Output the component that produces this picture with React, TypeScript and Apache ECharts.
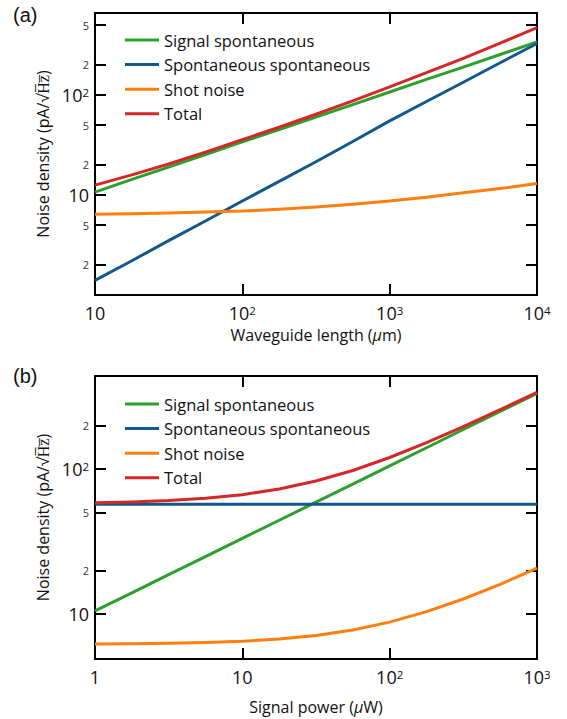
import React, { useEffect, useRef } from "react";
import * as echarts from "echarts";

// Panel (a): noise density vs waveguide length
const lengthUm = [10, 17.8, 31.6, 56.2, 100, 178, 316, 562, 1000, 1778, 3162, 5623, 10000];
const aSignal = [10.7, 14.3, 19, 25.4, 34, 45, 60, 80, 107, 143, 190, 254, 339];
const aSpont = [1.4, 2.2, 3.5, 5.5, 8.7, 13.7, 21.5, 34.3, 55, 86, 134, 210, 327];
const aShot = [6.4, 6.5, 6.6, 6.75, 6.9, 7.2, 7.6, 8.1, 8.7, 9.5, 10.5, 11.6, 13.0];
const aTotal = [12.55, 15.9, 20.4, 26.8, 35.8, 47.6, 64.2, 87.4, 120.6, 167, 232.7, 329.8, 471];

// Panel (b): noise density vs signal power
const powerUw = [1, 1.78, 3.16, 5.62, 10, 17.8, 31.6, 56.2, 100, 178, 316, 562, 1000];
const bSignal = [10.5, 14, 18.7, 24.9, 33.2, 44.3, 59, 78.7, 105, 140, 187, 249, 332];
const bSpont = [57.2, 57.2, 57.2, 57.2, 57.2, 57.2, 57.2, 57.2, 57.2, 57.2, 57.2, 57.2, 57.2];
const bShot = [6.22, 6.25, 6.3, 6.37, 6.5, 6.72, 7.11, 7.76, 8.8, 10.4, 12.7, 16.0, 20.7];
const bTotal = [58.5, 59.2, 60.5, 62.7, 66.5, 72.7, 82.5, 97.6, 119.9, 151.6, 196, 256, 337.5];

const seriesNames = ["Signal spontaneous", "Spontaneous spontaneous", "Shot noise", "Total"];
const seriesColors = ["#2ca02c", "#11598d", "#ff7f0e", "#d62728"];

const aXTicks = [10, 100, 1000, 10000];
const aYTicks = [2, 5, 10, 20, 50, 100, 200, 500];
const bXTicks = [1, 10, 100, 1000];
const bYTicks = [10, 20, 50, 100, 200];

const FONT = "Open Sans";

const fmt = (v: number) => {
  const e = Math.log10(v);
  const r = Math.round(e);
  if (Math.abs(e - r) < 1e-6) {
    if (r === 0) return "{maj|1}";
    if (r === 1) return "{maj|10}";
    return `{maj|10}{sup|${r}}`;
  }
  const d = Math.round(v / Math.pow(10, Math.floor(e)));
  return `{mn|${d}}`;
};

const rich = {
  maj: { fontSize: 18, fontFamily: FONT, color: "#111", lineHeight: 17 },
  sup: { fontSize: 11.5, fontFamily: FONT, color: "#111", lineHeight: 10, verticalAlign: "top" },
  mn: { fontSize: 11, fontFamily: FONT, color: "#333", lineHeight: 13 },
};

const lineAxis = { show: true, lineStyle: { color: "#000", width: 2 } };
const tickStyle = (vals: number[]) => ({
  show: true,
  inside: true,
  length: 11,
  lineStyle: { color: "#000", width: 2 },
  customValues: vals,
});

function buildX(grid: number, min: number, max: number, ticks: number[], name: string, nameGap: number) {
  return [
    {
      type: "log",
      logBase: 10,
      gridIndex: grid,
      min,
      max,
      position: "bottom",
      axisLine: lineAxis,
      axisTick: tickStyle(ticks.slice(1, -1)),
      splitLine: { show: false },
      minorTick: { show: false },
      axisLabel: { show: true, customValues: ticks, formatter: fmt, rich, margin: 9 },
      name,
      nameLocation: "middle",
      nameGap,
      nameTextStyle: {
        fontSize: 16,
        fontFamily: FONT,
        color: "#111",
        lineHeight: 18,
        rich: { i: { fontSize: 16, fontFamily: FONT, fontStyle: "italic", color: "#111", lineHeight: 18 } },
      },
    },
    {
      type: "log",
      logBase: 10,
      gridIndex: grid,
      min,
      max,
      position: "top",
      axisLine: lineAxis,
      axisTick: tickStyle(ticks.slice(1, -1)),
      splitLine: { show: false },
      axisLabel: { show: false },
    },
  ];
}

function buildY(grid: number, min: number, max: number, ticks: number[]) {
  return [
    {
      type: "log",
      logBase: 10,
      gridIndex: grid,
      min,
      max,
      position: "left",
      axisLine: lineAxis,
      axisTick: tickStyle(ticks),
      splitLine: { show: false },
      axisLabel: { show: true, customValues: ticks, formatter: fmt, rich, margin: 6 },
      name: "Noise density (pA/\u221AH\u0305z\u0305)",
      nameLocation: "middle",
      nameGap: 35,
      nameTextStyle: { fontSize: 16, fontFamily: FONT, color: "#111" },
    },
    {
      type: "log",
      logBase: 10,
      gridIndex: grid,
      min,
      max,
      position: "right",
      axisLine: lineAxis,
      axisTick: tickStyle(ticks),
      splitLine: { show: false },
      axisLabel: { show: false },
    },
  ];
}

function makeSeries(xs: number[], ys: number[][], xIdx: number, yIdx: number) {
  return ys.map((vals, i) => ({
    type: "line",
    name: seriesNames[i],
    xAxisIndex: xIdx,
    yAxisIndex: yIdx,
    data: xs.map((x, j) => [x, vals[j]]),
    symbol: "none",
    smooth: false,
    lineStyle: { width: 3, color: seriesColors[i], join: "round" },
    itemStyle: { color: seriesColors[i] },
    z: i === 3 ? 3 : 2,
  }));
}

const legendCfg = (top: number) => ({
  orient: "vertical",
  left: 120,
  top,
  icon: "rect",
  itemWidth: 34,
  itemHeight: 3,
  itemGap: 4.6,
  textStyle: { fontSize: 16.5, fontFamily: FONT, color: "#111", lineHeight: 20 },
  data: seriesNames,
});

export default function App() {
  const ref = useRef<HTMLDivElement>(null);
  useEffect(() => {
    if (!ref.current) return;
    const chart = echarts.init(ref.current, undefined, { renderer: "svg" });
    const xa = buildX(0, 10, 10000, aXTicks, "Waveguide length ({i|\u03BC}m)", 31);
    const xb = buildX(1, 1, 1000, bXTicks, "Signal power ({i|\u03BC}W)", 39);
    const ya = buildY(0, 1, 660, aYTicks);
    const yb = buildY(1, 4.9, 437, bYTicks);
    chart.setOption({
      animation: false,
      backgroundColor: "#fff",
      grid: [
        { left: 95, top: 13, width: 442, height: 282 },
        { left: 95, top: 376, width: 442, height: 283 },
      ],
      xAxis: [...xa, ...xb],
      yAxis: [...ya, ...yb],
      legend: [legendCfg(25), legendCfg(389)],
      graphic: [
        {
          type: "text",
          left: 13,
          top: 5,
          style: { text: "(a)", font: "20px 'Liberation Sans', Arial, sans-serif", fill: "#111" },
        },
        {
          type: "text",
          left: 13,
          top: 366,
          style: { text: "(b)", font: "20px 'Liberation Sans', Arial, sans-serif", fill: "#111" },
        },
      ],
      series: [
        ...makeSeries(lengthUm, [aSignal, aSpont, aShot, aTotal], 0, 0),
        ...makeSeries(powerUw, [bSignal, bSpont, bShot, bTotal], 2, 2),
      ],
    });
    return () => chart.dispose();
  }, []);
  return (
    <div
      ref={ref}
      style={{ position: "fixed", left: 0, top: 0, width: 567, height: 719, background: "#fff" }}
    />
  );
}
